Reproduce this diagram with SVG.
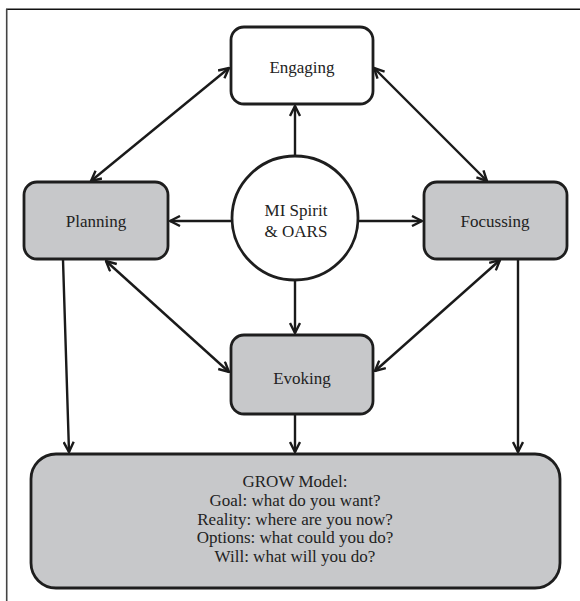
<svg xmlns="http://www.w3.org/2000/svg" width="580" height="601" viewBox="0 0 580 601">
<style>
.box{stroke:#1e1e1e;stroke-width:2.8}
.grey{fill:#c7c8ca}
.white{fill:#ffffff}
.lbl{font-family:'Liberation Serif','Times New Roman',Times,serif;font-size:17px;fill:#222;text-anchor:middle}
.conn line{stroke:#1a1a1a;stroke-width:2.4;fill:none}
</style>
<defs>
<marker id="ah" viewBox="0 0 12 12" markerWidth="12" markerHeight="12" refX="11" refY="6" orient="auto-start-reverse" markerUnits="userSpaceOnUse">
<path d="M1,1 L11,6 L1,11" fill="none" stroke="#1a1a1a" stroke-width="2.4" stroke-linejoin="miter"/>
</marker>
</defs>
<rect width="580" height="601" fill="#ffffff"/>
<g id="frame">
<line x1="6" y1="9.3" x2="580" y2="9.3" stroke="#111" stroke-width="1.6"/>
<line x1="6.7" y1="9" x2="6.7" y2="601" stroke="#444" stroke-width="1.6"/>
</g>
<g class="conn">
<line x1="295" y1="156" x2="295" y2="106" marker-end="url(#ah)"/>
<line x1="232" y1="221" x2="170" y2="221" marker-end="url(#ah)"/>
<line x1="358" y1="221" x2="422" y2="221" marker-end="url(#ah)"/>
<line x1="295" y1="280" x2="295" y2="333" marker-end="url(#ah)"/>
<line x1="91" y1="181" x2="229" y2="68" marker-start="url(#ah)" marker-end="url(#ah)"/>
<line x1="374" y1="68" x2="487" y2="181" marker-start="url(#ah)" marker-end="url(#ah)"/>
<line x1="106" y1="261" x2="229" y2="372" marker-start="url(#ah)" marker-end="url(#ah)"/>
<line x1="500" y1="260" x2="375" y2="371" marker-start="url(#ah)" marker-end="url(#ah)"/>
<line x1="63" y1="260" x2="69" y2="452" marker-end="url(#ah)"/>
<line x1="295" y1="415" x2="295" y2="452" marker-end="url(#ah)"/>
<line x1="518" y1="260" x2="518" y2="452" marker-end="url(#ah)"/>
</g>
<g id="engaging">
<rect class="box white" x="231" y="27" width="142" height="77" rx="13"/>
<text class="lbl" x="302" y="73" font-family="Liberation Serif, serif">Engaging</text>
</g>
<g id="planning">
<rect class="box grey" x="24" y="182" width="144" height="77" rx="13"/>
<text class="lbl" x="96" y="227" font-family="Liberation Serif, serif">Planning</text>
</g>
<g id="focussing">
<rect class="box grey" x="424" y="182" width="143" height="77" rx="13"/>
<text class="lbl" x="495" y="227" font-family="Liberation Serif, serif">Focussing</text>
</g>
<g id="mi-spirit">
<ellipse class="box white" cx="295" cy="218" rx="63" ry="62"/>
<text class="lbl" x="296" y="216" font-family="Liberation Serif, serif">MI Spirit</text>
<text class="lbl" x="296" y="237" font-family="Liberation Serif, serif">&amp; OARS</text>
</g>
<g id="evoking">
<rect class="box grey" x="231" y="335" width="142" height="79" rx="13"/>
<text class="lbl" x="302" y="384" font-family="Liberation Serif, serif">Evoking</text>
</g>
<g id="grow">
<rect class="box grey" x="31" y="454" width="529" height="134" rx="25"/>
<text class="lbl" x="295" y="487" font-family="Liberation Serif, serif">GROW Model:</text>
<text class="lbl" x="295" y="506" font-family="Liberation Serif, serif">Goal: what do you want?</text>
<text class="lbl" x="295" y="525" font-family="Liberation Serif, serif">Reality: where are you now?</text>
<text class="lbl" x="295" y="543" font-family="Liberation Serif, serif">Options: what could you do?</text>
<text class="lbl" x="295" y="562" font-family="Liberation Serif, serif">Will: what will you do?</text>
</g>
</svg>
